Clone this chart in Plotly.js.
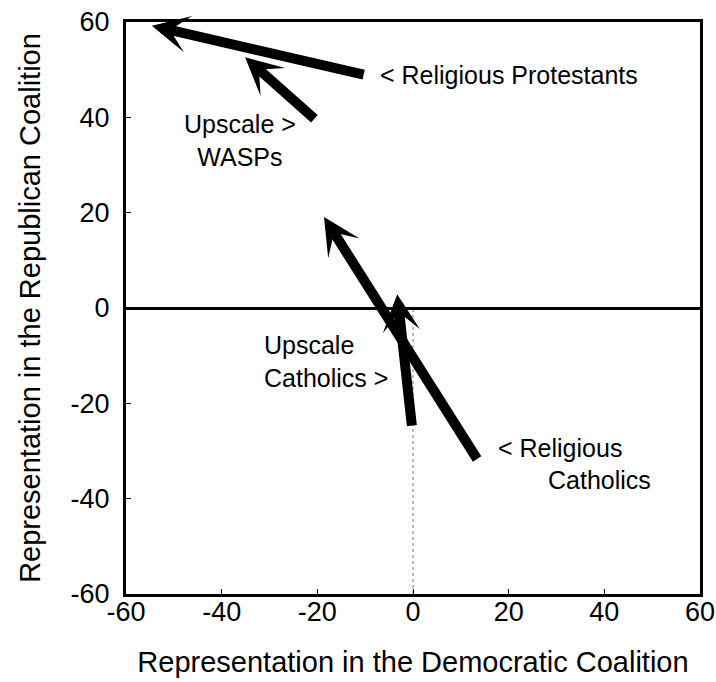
<!DOCTYPE html>
<html>
<head>
<meta charset="utf-8">
<script src="https://cdn.plot.ly/plotly-3.0.1.min.js"></script>
<style>html,body{margin:0;padding:0;background:#fff;}#chart{width:716px;height:682px;}</style>
</head>
<body>
<div id="chart"></div>
<script>
// Movement of groups between 1st and 2nd period (tail -> head)
const groups = ["Religious Protestants", "Upscale WASPs", "Religious Catholics", "Upscale Catholics"];
const startDem = [-10.0, -20.3, 13.6, -0.2];
const startRep = [48.9, 39.4, -32.0, -25.0];
const endDem = [-54.6, -35.1, -18.6, -3.3];
const endRep = [59.2, 52.6, 19.1, 2.9];
const xTicks = [-60, -40, -20, 0, 20, 40, 60];
const yTicks = [-60, -40, -20, 0, 20, 40, 60];

const FONT = "Liberation Sans, Arial, sans-serif";

const arrows = groups.map((g, i) => ({
  x: endDem[i], y: endRep[i], xref: "x", yref: "y",
  ax: startDem[i], ay: startRep[i], axref: "x", ayref: "y",
  text: "", showarrow: true, arrowhead: 3, arrowsize: 0.62, arrowwidth: 10,
  arrowcolor: "#000", standoff: 0, startstandoff: 0
}));

const lf = {family: FONT, size: 25, color: "#000"};
const labels = [
  {x: -7.3, y: 48.9, text: "< Religious Protestants", xanchor: "left", yanchor: "middle"},
  {x: -36.2, y: 35.2, text: "Upscale &gt;<br>WASPs", xanchor: "center", yanchor: "middle", align: "center"},
  {x: -31.6, y: -11.3, text: "Upscale<br>Catholics &gt;", xanchor: "left", yanchor: "middle", align: "left"},
  {x: 17.3, y: -29.3, text: "< Religious", xanchor: "left", yanchor: "middle"},
  {x: 27.8, y: -36.0, text: "Catholics", xanchor: "left", yanchor: "middle"}
].map(a => Object.assign({xref: "x", yref: "y", showarrow: false, font: lf}, a));

const axisCommon = {
  range: [-60, 60], showgrid: false, showline: true, mirror: true,
  linecolor: "#000", linewidth: 3, ticks: "inside", ticklen: 5, tickwidth: 1,
  tickcolor: "#000", tickfont: {family: FONT, size: 27, color: "#000"},
  tickmode: "array", fixedrange: true
};

const layout = {
  width: 716, height: 682,
  margin: {l: 126, r: 16, t: 22, b: 88, autoexpand: false},
  paper_bgcolor: "#fff", plot_bgcolor: "#fff",
  showlegend: false,
  xaxis: Object.assign({}, axisCommon, {
    tickvals: xTicks, ticktext: xTicks.map(String), zeroline: false,
    ticklabelstandoff: -8, automargin: false,
    title: {text: "Representation in the Democratic Coalition", font: {family: FONT, size: 29, color: "#000"}, standoff: 26}
  }),
  yaxis: Object.assign({}, axisCommon, {
    tickvals: yTicks, ticktext: yTicks.map(String),
    zeroline: true, zerolinecolor: "#000", zerolinewidth: 3,
    ticklabelstandoff: 8, automargin: false,
    title: {text: "Representation in the Republican Coalition", font: {family: FONT, size: 29, color: "#000"}, standoff: 22}
  }),
  shapes: [{type: "line", xref: "x", yref: "y", x0: 0, x1: 0, y0: -60, y1: 0,
            line: {color: "#777", width: 1, dash: "dot"}, layer: "below"}],
  annotations: arrows.concat(labels)
};

Plotly.newPlot("chart", [{x: [], y: [], type: "scatter", mode: "markers"}], layout, {displayModeBar: false, staticPlot: true});
</script>
</body>
</html>
